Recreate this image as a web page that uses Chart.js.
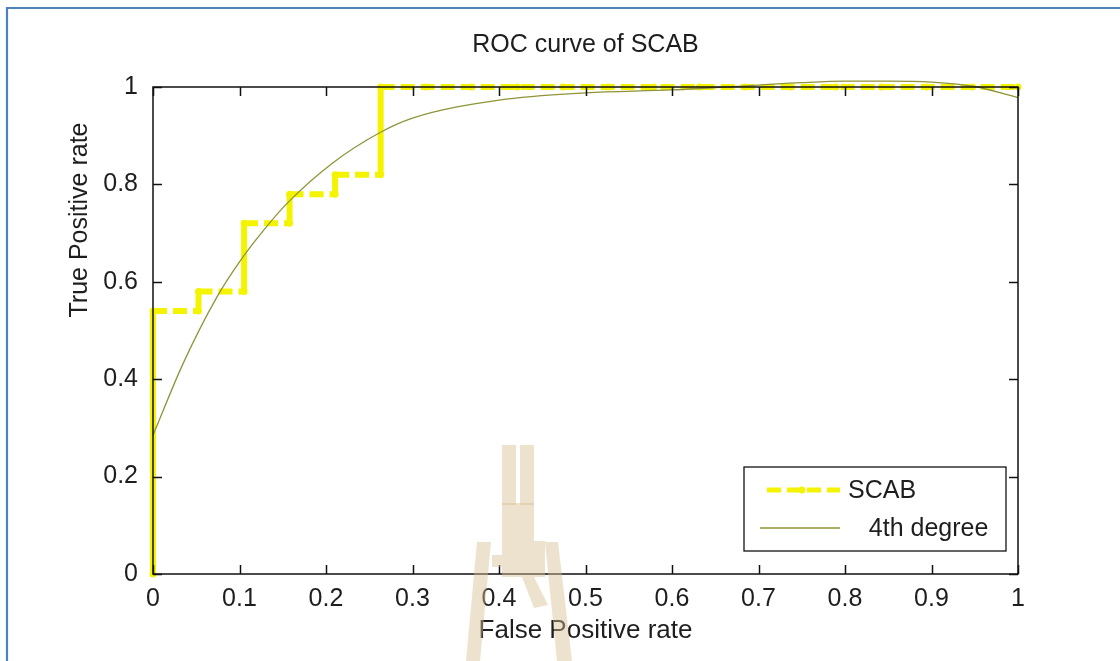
<!DOCTYPE html>
<html>
<head>
<meta charset="utf-8">
<title>ROC curve of SCAB</title>
<script src="https://cdn.jsdelivr.net/npm/chart.js@4.4.1/dist/chart.umd.min.js"></script>
<style>
  html, body { margin: 0; padding: 0; background: #ffffff; }
  #roc { display: block; }
</style>
</head>
<body>
<canvas id="roc" width="1120" height="661"></canvas>
<script>
// ROC operating points of the SCAB classifier (false / true positive rate)
const scabFpr = [0, 0, 0.0526, 0.0526, 0.1053, 0.1053, 0.1579, 0.1579, 0.2105, 0.2105,
                 0.2632, 0.2632, 0.3158, 0.3684, 0.4211, 0.4737, 0.5263, 0.5789, 0.6316,
                 0.6842, 0.7368, 0.7895, 0.8421, 0.8947, 0.9474, 1];
const scabTpr = [0, 0.54, 0.54, 0.58, 0.58, 0.72, 0.72, 0.78, 0.78, 0.82,
                 0.82, 1, 1, 1, 1, 1, 1, 1, 1,
                 1, 1, 1, 1, 1, 1, 1];

// 4th degree polynomial fit, sampled along the FPR axis
const fitFpr = [0, 0.035, 0.074, 0.10, 0.128, 0.155, 0.207, 0.262, 0.30, 0.40,
                0.50, 0.60, 0.70, 0.75, 0.80, 0.85, 0.90, 0.95, 1.0];
const fitTpr = [0.285, 0.433, 0.569, 0.641, 0.706, 0.761, 0.843, 0.906, 0.936, 0.973,
                0.988, 0.994, 1.004, 1.009, 1.012, 1.012, 1.010, 1.001, 0.978];

// Axis tick labels
const xTickLabels = ['0', '0.1', '0.2', '0.3', '0.4', '0.5', '0.6', '0.7', '0.8', '0.9', '1'];
const yTickLabels = ['0', '0.2', '0.4', '0.6', '0.8', '1'];

const chartTitle = 'ROC curve of SCAB';
const xTitle = 'False Positive rate';
const yTitle = 'True Positive rate';

const FONT = '"Liberation Sans", Arial, Helvetica, sans-serif';
const FONT_SIZE = 25;
const TEXT = '#1e1e1e';
const SCAB_YELLOW = '#f4f400';
const FIT_OLIVE = '#8f9438';
const STEP_DASH = [14, 6];

const toPoints = (xs, ys) => xs.map((x, i) => ({ x: x, y: ys[i] }));

// Page frame, axes box with inward ticks, titles, legend and the faint seal
const decorations = {
  id: 'decorations',
  beforeDraw(chart) {
    const ctx = chart.ctx;
    ctx.save();
    ctx.fillStyle = '#ffffff';
    ctx.fillRect(0, 0, chart.width, chart.height);
    ctx.strokeStyle = '#4f81bd';
    ctx.lineWidth = 2.2;
    ctx.beginPath();
    ctx.moveTo(7, chart.height);
    ctx.lineTo(7, 8);
    ctx.lineTo(chart.width, 8);
    ctx.stroke();
    ctx.restore();
  },
  afterDatasetsDraw(chart) {
    const ctx = chart.ctx;
    const a = chart.chartArea;
    const xs = chart.scales.x;
    const ys = chart.scales.y;
    const tick = 9;
    ctx.save();
    ctx.strokeStyle = '#111111';
    ctx.lineWidth = 1.5;
    ctx.strokeRect(a.left, a.top, a.right - a.left, a.bottom - a.top);
    ctx.beginPath();
    xs.ticks.forEach((t, i) => {
      const px = Math.round(xs.getPixelForTick(i)) + 0.5;
      ctx.moveTo(px, a.bottom); ctx.lineTo(px, a.bottom - tick);
      ctx.moveTo(px, a.top); ctx.lineTo(px, a.top + tick);
    });
    ys.ticks.forEach((t, i) => {
      const py = Math.round(ys.getPixelForTick(i)) + 0.5;
      ctx.moveTo(a.left, py); ctx.lineTo(a.left + tick, py);
      ctx.moveTo(a.right, py); ctx.lineTo(a.right - tick, py);
    });
    ctx.stroke();

    // titles
    ctx.fillStyle = TEXT;
    ctx.font = FONT_SIZE + 'px ' + FONT;
    ctx.textAlign = 'center';
    ctx.textBaseline = 'middle';
    ctx.fillText(chartTitle, (a.left + a.right) / 2, a.top - 42);
    ctx.font = (FONT_SIZE + 1) + 'px ' + FONT;
    ctx.fillText(xTitle, (a.left + a.right) / 2, a.bottom + 57);
    ctx.font = FONT_SIZE + 'px ' + FONT;
    ctx.save();
    ctx.translate(a.left - 73, a.top + 133);
    ctx.rotate(-Math.PI / 2);
    ctx.fillText(yTitle, 0, 0);
    ctx.restore();

    // legend
    const boxW = 262, boxH = 84;
    const bx = a.right - 12 - boxW;
    const by = a.bottom - 23 - boxH;
    ctx.fillStyle = '#ffffff';
    ctx.fillRect(bx, by, boxW, boxH);
    ctx.strokeStyle = '#111111';
    ctx.lineWidth = 1.3;
    ctx.strokeRect(bx, by, boxW, boxH);
    const rows = [chart.data.datasets.find(d => d.key === 'scab'),
                  chart.data.datasets.find(d => d.key === 'fit')];
    rows.forEach((ds, i) => {
      const ly = by + 23 + i * 38;
      ctx.save();
      ctx.strokeStyle = ds.borderColor;
      ctx.lineWidth = ds.key === 'scab' ? 5 : ds.borderWidth;
      ctx.setLineDash(ds.key === 'scab' ? STEP_DASH : []);
      ctx.beginPath();
      ctx.moveTo(bx + (ds.key === 'scab' ? 23 : 16), ly);
      ctx.lineTo(bx + 96, ly);
      ctx.stroke();
      ctx.setLineDash([]);
      if (ds.pointRadius > 0) {
        ctx.fillStyle = ds.borderColor;
        ctx.beginPath();
        ctx.arc(bx + 58, ly, ds.pointRadius, 0, Math.PI * 2);
        ctx.fill();
      }
      ctx.restore();
      ctx.fillStyle = TEXT;
      ctx.font = FONT_SIZE + 'px ' + FONT;
      ctx.textAlign = 'left';
      ctx.textBaseline = 'middle';
      ctx.fillText(ds.label, bx + 104, ly + 1);
    });
    ctx.restore();
  },
  afterDraw(chart) {
    // translucent university seal near the bottom edge
    const ctx = chart.ctx;
    const cx = 518, top = 445;
    const shapes = [
      [[-16, 0], [-2, 0], [-2, 60], [-16, 60]],
      [[2, 0], [16, 0], [16, 60], [2, 60]],
      [[-16, 58], [16, 58], [16, 96], [27, 96], [27, 132], [16, 132], [30, 160], [16, 163], [4, 132], [-16, 132], [-16, 122], [-26, 122], [-26, 110], [-16, 110]],
      [[-41, 97], [-27, 97], [-38, 216], [-52, 216]],
      [[27, 97], [40, 97], [54, 216], [39, 216]]
    ];
    ctx.save();
    ctx.fillStyle = 'rgba(214, 190, 145, 0.45)';
    shapes.forEach(poly => {
      ctx.beginPath();
      poly.forEach((p, i) => {
        if (i === 0) ctx.moveTo(cx + p[0], top + p[1]);
        else ctx.lineTo(cx + p[0], top + p[1]);
      });
      ctx.closePath();
      ctx.fill();
    });
    ctx.restore();
  }
};

new Chart(document.getElementById('roc'), {
  type: 'line',
  data: {
    datasets: [
      {
        key: 'fit',
        label: '   4th degree',
        data: toPoints(fitFpr, fitTpr),
        borderColor: FIT_OLIVE,
        borderWidth: 1.3,
        pointRadius: 0,
        cubicInterpolationMode: 'monotone',
        fill: false,
        clip: false,
        order: 0
      },
      {
        key: 'scab',
        label: 'SCAB',
        data: toPoints(scabFpr, scabTpr),
        borderColor: SCAB_YELLOW,
        backgroundColor: SCAB_YELLOW,
        borderWidth: 6,
        borderCapStyle: 'butt',
        borderJoinStyle: 'miter',
        pointRadius: 3.5,
        pointBorderWidth: 0,
        pointBackgroundColor: SCAB_YELLOW,
        tension: 0,
        fill: false,
        clip: false,
        order: 1,
        segment: {
          borderDash: c => (c.p0.parsed.x === c.p1.parsed.x ? [] : STEP_DASH)
        }
      }
    ]
  },
  options: {
    responsive: false,
    animation: false,
    devicePixelRatio: 1,
    layout: { padding: { left: 0, top: 87, right: 102, bottom: 0 } },
    plugins: {
      legend: { display: false },
      title: { display: false },
      tooltip: { enabled: false }
    },
    scales: {
      x: {
        type: 'linear',
        min: 0,
        max: 1,
        afterFit: s => { s.height = 87; },
        grid: { display: false, drawTicks: false },
        border: { display: false },
        ticks: {
          stepSize: 0.1,
          autoSkip: false,
          maxRotation: 0,
          padding: 10,
          color: TEXT,
          font: { family: FONT, size: FONT_SIZE },
          callback: (v, i) => xTickLabels[i]
        }
      },
      y: {
        type: 'linear',
        min: 0,
        max: 1,
        afterFit: s => { s.width = 153; },
        grid: { display: false, drawTicks: false },
        border: { display: false },
        ticks: {
          stepSize: 0.2,
          padding: 15,
          color: TEXT,
          font: { family: FONT, size: FONT_SIZE },
          callback: (v, i) => yTickLabels[i]
        }
      }
    }
  },
  plugins: [decorations]
});
</script>
</body>
</html>
